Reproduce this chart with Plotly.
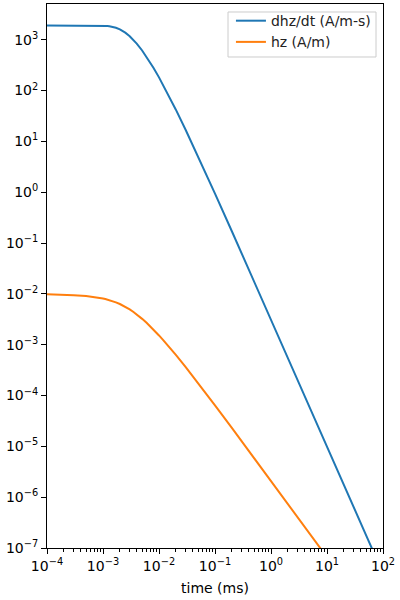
import plotly.graph_objects as go

# time (ms)
time_ms = [1e-4, 1.5e-4, 2e-4, 3e-4, 5e-4, 7e-4, 8e-4, 1e-3, 1.1e-3, 1.2e-3, 1.3e-3,
           1.5e-3, 1.7e-3, 2e-3, 2.2e-3, 2.5e-3, 3e-3, 3.5e-3, 4e-3, 5e-3, 6e-3,
           7e-3, 8e-3, 1e-2, 1.2e-2, 1.5e-2, 2e-2, 3e-2, 5e-2, 7e-2, 0.1, 0.2, 0.5,
           1, 2, 5, 10, 20, 50, 100]

# dhz/dt (A/m-s)
dhzdt = [1909.9, 1909.9, 1909.9, 1909.9, 1909.9, 1909.0, 1907.0, 1895.0, 1883.2,
         1866.7, 1845.5, 1789.7, 1719.1, 1595.7, 1507.9, 1375.8, 1169.2, 990.2,
         840.3, 614.6, 460.9, 354.3, 278.5, 181.85, 126.04, 78.86, 42.07, 16.74,
         5.026, 2.2372, 0.9394, 0.17077, 0.017572, 3.1239e-3, 5.538e-4, 5.613e-5,
         9.929e-6, 1.7557e-6, 1.777e-7, 3.1415e-8]

# hz (A/m)
hz = [9.809e-3, 9.714e-3, 9.618e-3, 9.43e-3, 9.045e-3, 8.663e-3, 8.472e-3, 8.09e-3,
      7.903e-3, 7.715e-3, 7.530e-3, 7.166e-3, 6.815e-3, 6.317e-3, 6.007e-3,
      5.574e-3, 4.939e-3, 4.400e-3, 3.944e-3, 3.224e-3, 2.691e-3, 2.286e-3,
      1.972e-3, 1.521e-3, 1.217e-3, 9.18e-4, 6.29e-4, 3.609e-4, 1.753e-4,
      1.078e-4, 6.405e-5, 2.303e-5, 5.884e-6, 2.087e-6, 7.392e-7, 1.872e-7,
      6.621e-8, 2.3416e-8, 5.924e-9, 2.094e-9]

series_names = ["dhz/dt (A/m-s)", "hz (A/m)"]
series_colors = ["#1f77b4", "#ff7f0e"]

x_tick_exps = [-4, -3, -2, -1, 0, 1, 2]
y_tick_exps = [-7, -6, -5, -4, -3, -2, -1, 0, 1, 2, 3]


def pow_label(e):
    s = str(e).replace("-", "\u2212")
    return f"10<sup>{s}</sup>"


fig = go.Figure()
for name, ys, col in zip(series_names, [dhzdt, hz], series_colors):
    fig.add_trace(go.Scatter(x=time_ms, y=ys, mode="lines", name=name,
                             line=dict(color=col, width=2)))

minor_x = [m * 10.0 ** e for e in range(-4, 2) for m in range(2, 10)]

font = dict(family="DejaVu Sans", size=14, color="black")

# legend frame (paper coordinates)
fig.add_shape(type="rect", xref="paper", yref="paper",
              x0=0.5387, x1=0.9792, y0=0.9026, y1=0.9853,
              line=dict(color="#cccccc", width=1), fillcolor="rgba(255,255,255,0.8)",
              layer="above")

fig.update_layout(
    width=400, height=600,
    margin=dict(l=47, r=17, t=4, b=52),
    paper_bgcolor="white", plot_bgcolor="white",
    font=font,
    showlegend=True,
    legend=dict(x=0.979, xanchor="right", y=0.998, yanchor="top",
                borderwidth=0, bgcolor="rgba(0,0,0,0)",
                font=dict(family="DejaVu Sans", size=14, color="#222"),
                tracegroupgap=0),
)
fig.update_xaxes(
    type="log", range=[-4, 2], automargin=False,
    tickvals=[10.0 ** e for e in x_tick_exps],
    ticktext=[pow_label(e) for e in x_tick_exps],
    ticks="outside", ticklen=5, tickwidth=1, tickcolor="black",
    minor=dict(tickvals=minor_x, ticks="outside", ticklen=3, tickwidth=1,
               tickcolor="black", showgrid=False),
    showline=True, linecolor="black", linewidth=1, mirror=True,
    showgrid=False, zeroline=False,
    title=dict(text="time (ms)", font=font, standoff=10),
)
fig.update_yaxes(
    type="log", range=[-7, 3.703], automargin=False,
    tickvals=[10.0 ** e for e in y_tick_exps],
    ticktext=[pow_label(e) for e in y_tick_exps],
    ticks="outside", ticklen=5, tickwidth=1, tickcolor="black",
    showline=True, linecolor="black", linewidth=1, mirror=True,
    showgrid=False, zeroline=False,
)

fig.write_html("out.html", config={"displayModeBar": False},
               post_script="document.body.style.margin='0';document.body.style.padding='0';")
